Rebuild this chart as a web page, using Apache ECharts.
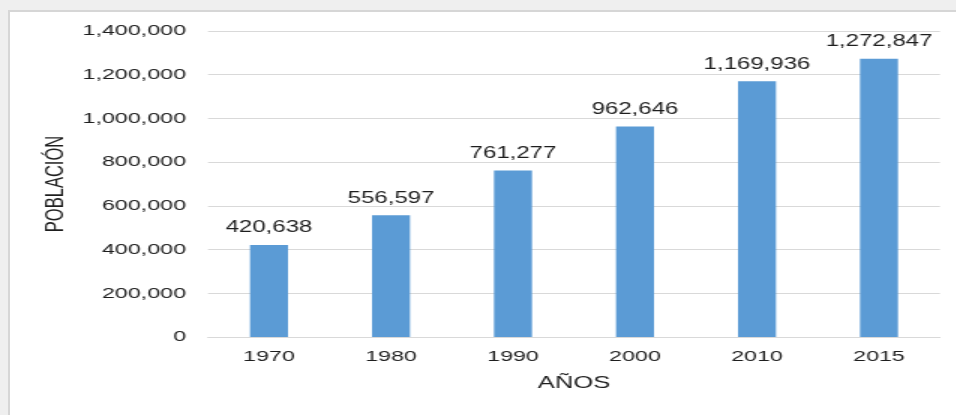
<!DOCTYPE html>
<html>
<head>
<meta charset="utf-8">
<script src="https://cdn.jsdelivr.net/npm/echarts@6/dist/echarts.min.js"></script>
<style>
  html, body { margin: 0; padding: 0; width: 956px; height: 415px; overflow: hidden; background: #efefef; }
  #frame { position: absolute; left: 8px; top: 10px; right: 0; bottom: 0; background: #fff;
           border-left: 2px solid #d6d6d6; border-top: 2px solid #d6d6d6; }
  /* la imagen original viene estirada en horizontal, se reproduce con scaleX */
  #main { position: absolute; left: 0; top: 0; width: 638px; height: 415px;
          transform: scaleX(1.5); transform-origin: 0 0; }
</style>
</head>
<body>
<div id="frame"></div>
<div id="main"></div>
<script>
// datos de población por año
var years = ['1970', '1980', '1990', '2000', '2010', '2015'];
var poblacion = [420638, 556597, 761277, 962646, 1169936, 1272847];

var sx = 1.5; // factor de estiramiento horizontal
var fmt = function(v){ return Number(v).toLocaleString('en-US'); };
var txtFont = 'Liberation Sans';
var txtColor = '#1e1e1e';

var chart = echarts.init(document.getElementById('main'), null, { renderer: 'canvas' });
chart.setOption({
    backgroundColor: 'transparent',
    animation: false,
    grid: { left: 208 / sx, right: 17 / sx, top: 31, bottom: 78, outerBoundsMode: 'none', containLabel: false },
    xAxis: {
        type: 'category',
        data: years,
        name: 'AÑOS',
        nameLocation: 'middle',
        nameGap: 38,
        nameTextStyle: { fontFamily: txtFont, fontSize: 17, color: txtColor },
        axisLine: { lineStyle: { color: '#d9d9d9', width: 1 } },
        axisTick: { show: false },
        axisLabel: { fontFamily: txtFont, fontSize: 15.5, color: txtColor, margin: 12 }
    },
    yAxis: {
        type: 'value',
        min: 0,
        max: 1400000,
        interval: 200000,
        name: 'POBLACIÓN',
        nameLocation: 'middle',
        nameMoveOverlap: false,
        nameGap: 139 / sx,
        nameTextStyle: { fontFamily: txtFont, fontSize: 16.5, color: txtColor },
        axisLine: { show: false },
        axisTick: { show: false },
        splitLine: { lineStyle: { color: '#d9d9d9', width: 1 } },
        axisLabel: { fontFamily: txtFont, fontSize: 15.5, color: txtColor, margin: 22 / sx, formatter: fmt }
    },
    series: [{
        type: 'bar',
        data: poblacion,
        barWidth: 38 / sx,
        itemStyle: { color: '#5b9bd5' },
        label: {
            show: true,
            position: 'top',
            distance: 9,
            fontFamily: txtFont,
            fontSize: 16,
            color: txtColor,
            formatter: function(p){ return fmt(p.value); }
        }
    }]
});
</script>
</body>
</html>
